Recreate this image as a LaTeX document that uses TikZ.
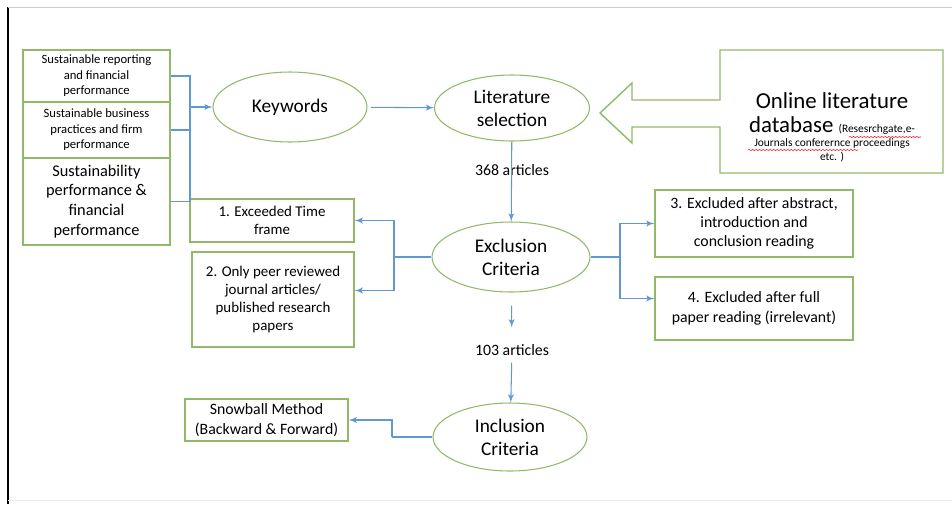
\documentclass[tikz,border=0pt]{standalone}
\usepackage{fontspec}
\setmainfont{Carlito}
\usepackage{tikz}
\usetikzlibrary{arrows}
\usetikzlibrary{shapes.geometric}
\usetikzlibrary{decorations.pathmorphing}
\definecolor{boxgreen}{RGB}{146,184,104}
\definecolor{linkblue}{RGB}{96,152,210}
\begin{document}
\begin{tikzpicture}[x=0.02cm,y=-0.02cm,
  gbox/.style={draw=boxgreen,line width=0.8pt,align=center,inner sep=1pt,font=\fontsize{8.5}{10.3}\selectfont},
  oval/.style={draw=boxgreen,ellipse,line width=0.6pt,align=center,inner sep=0pt,font=\fontsize{11}{13}\selectfont},
  link/.style={draw=linkblue,line width=0.6pt},
  arr/.style={link,-latex'}]
  \useasboundingbox (0,0) rectangle (952,504);
  \draw[line width=1.2pt] (8,7) -- (8,504);
  \draw[black!20] (8,7) -- (952,7);
  \draw[black!8] (8,500) -- (952,500);
  % keyword boxes
  \node[gbox,minimum width=2.94cm,minimum height=1.04cm,font=\fontsize{7.2}{8.8}\selectfont] (A) at (96.5,76) {Sustainable reporting\\and financial\\performance};
  \node[gbox,minimum width=2.94cm,minimum height=1.12cm,font=\fontsize{7.2}{8.8}\selectfont] (B) at (96.5,130) {Sustainable business\\practices and firm\\performance};
  \node[gbox,minimum width=2.94cm,minimum height=1.74cm,font=\fontsize{9.3}{11.3}\selectfont] (C) at (96.5,201.5) {Sustainability\\performance \&\\financial\\performance};
  % main flow
  \node[oval,minimum width=3.08cm,minimum height=1.4cm] (kw) at (290,107) {Keywords};
  \node[oval,minimum width=3.1cm,minimum height=1.32cm] (lit) at (512,108) {Literature\\selection};
  \node[oval,minimum width=3.16cm,minimum height=1.4cm] (exc) at (511,257) {Exclusion\\Criteria};
  \node[oval,minimum width=3.08cm,minimum height=1.36cm] (inc) at (510,437) {Inclusion\\Criteria};
  \node[font=\fontsize{9}{11}\selectfont,inner sep=1pt] (n368) at (512,170) {368 articles};
  \node[font=\fontsize{9}{11}\selectfont,inner sep=1pt] (n103) at (512,350) {103 articles};
  % exclusion boxes
  \node[gbox,minimum width=3.28cm,minimum height=0.86cm] (1) at (272,220.5) {1. Exceeded Time\\frame};
  \node[gbox,minimum width=3.24cm,minimum height=1.9cm] (2) at (273,299.5) {2. Only peer reviewed\\journal articles/\\published research\\papers};
  \node[gbox,minimum width=3.96cm,minimum height=1.34cm,font=\fontsize{9}{11}\selectfont] (3) at (754,223.5) {3. Excluded after abstract,\\introduction and\\conclusion reading};
  \node[gbox,minimum width=3.96cm,minimum height=1.26cm,font=\fontsize{9}{11}\selectfont] (4) at (754,308.5) {4. Excluded after full\\paper reading (irrelevant)};
  \node[gbox,minimum width=3.26cm,minimum height=0.84cm,font=\fontsize{9}{11}\selectfont] (snow) at (266.5,420) {Snowball Method\\(Backward \& Forward)};
  % database arrow
  \draw[boxgreen,line width=0.8pt] (600,113) -- (632,83) -- (632,100) -- (720,100) -- (720,50) -- (943,50)
    -- (943,173) -- (720,173) -- (720,127) -- (632,127) -- (632,143) -- cycle;
  \node[align=center,inner sep=0pt,font=\fontsize{13}{13.6}\selectfont] (db) at (832,127) {Online literature\\
    database {\fontsize{6.5}{8}\selectfont (Resesrchgate,e-}\\[-5.6pt]
    {\fontsize{6.5}{8}\selectfont Journals conferernce proceedings}\\[-5.6pt]
    {\fontsize{6.5}{8}\selectfont etc. )}};
  \draw[red,line width=0.3pt,decorate,decoration={snake,amplitude=0.3pt,segment length=2pt}] (849,137) -- (921,137);
  \draw[red,line width=0.3pt,decorate,decoration={snake,amplitude=0.3pt,segment length=2pt}] (748,150) -- (858,150);
  % connectors
  \coordinate (j1) at (190,107);
  \draw[link] (A.east) -| (j1);
  \draw[link] (B.east) -| (j1);
  \draw[link] (C.east) -| (j1);
  \draw[arr] (j1) -- (kw);
  \draw[arr,shorten <=2pt] (kw) -- (lit);
  \draw[arr] (lit) -- (exc);
  \coordinate (j2) at (394,257);
  \draw[link] (exc.west) -- (j2);
  \draw[arr] (j2) |- (1.east);
  \draw[arr] (j2) |- ([yshift=0.18cm]2.east);
  \coordinate (j3) at (620,257);
  \draw[link] (exc.east) -- (j3);
  \draw[arr] (j3) |- (3.west);
  \draw[arr] (j3) |- ([yshift=0.2cm]4.west);
  \draw[arr,shorten <=0.26cm,shorten >=0.3cm] (exc) -- (n103);
  \draw[arr,shorten <=0.1cm] (n103) -- (inc);
  \coordinate (j4) at (392,437);
  \draw[link] (inc.west) -- (j4);
  \draw[arr] (j4) |- (snow.east);
\end{tikzpicture}
\end{document}
